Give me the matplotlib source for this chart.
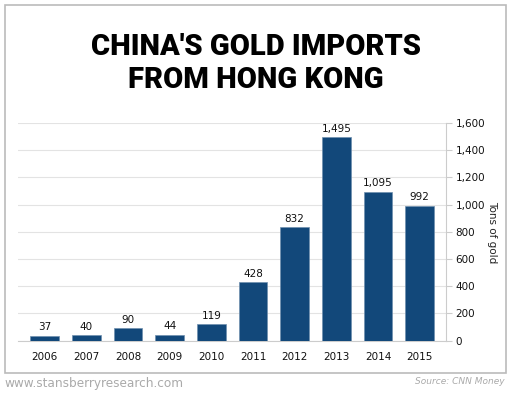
import matplotlib.pyplot as plt
from matplotlib.patches import Rectangle
from matplotlib.ticker import FuncFormatter

years = ['2006', '2007', '2008', '2009', '2010', '2011', '2012', '2013', '2014', '2015']
tons = [37, 40, 90, 44, 119, 428, 832, 1495, 1095, 992]
y_ticks = [0, 200, 400, 600, 800, 1000, 1200, 1400, 1600]

bar_color = '#12487a'

fig = plt.figure(figsize=(5.11, 3.97), dpi=100)
ax = fig.add_axes([0.035, 0.142, 0.837, 0.548])

x = range(len(years))
ax.bar(x, tons, width=0.69, color=bar_color, edgecolor='#6f8fae', linewidth=0.5, zorder=3)
for xi, v in zip(x, tons):
    ax.text(xi, v + 25, f'{v:,}', ha='center', va='bottom', fontsize=7.5, color='#111111')

ax.set_xlim(-0.64, 9.62)
ax.set_ylim(0, 1600)
ax.set_xticks(list(x))
ax.set_xticklabels(years)
ax.set_yticks(y_ticks)
ax.yaxis.set_major_formatter(FuncFormatter(lambda v, p: f'{int(v):,}'))
ax.yaxis.tick_right()
ax.yaxis.set_label_position('right')
ax.set_ylabel('Tons of gold', rotation=270, labelpad=9, fontsize=7.5, color='#222222')

ax.grid(axis='y', color='#e3e3e3', linewidth=0.8, zorder=0)
for s in ['top', 'left']:
    ax.spines[s].set_visible(False)
ax.spines['right'].set_color('#cccccc')
ax.spines['bottom'].set_color('#cccccc')
ax.tick_params(axis='x', length=0, pad=8, labelsize=7.5, colors='#111111')
ax.tick_params(axis='y', length=4, color='#cccccc', pad=3, labelsize=7.5, colors='#111111')

# frame around the chart
fig.patches.append(Rectangle((0.0098, 0.061), 0.980, 0.926, transform=fig.transFigure,
                             fill=False, edgecolor='#bbbbbb', linewidth=1.2))

fig.text(0.5, 0.84, "CHINA'S GOLD IMPORTS\nFROM HONG KONG", ha='center', va='center',
         fontsize=21, fontweight=900, family=['Roboto', 'DejaVu Sans'],
         linespacing=1.2, color='black')
fig.text(0.008, 0.035, 'www.stansberryresearch.com', ha='left', va='center',
         fontsize=8.7, color='#aaaaaa')
fig.text(0.988, 0.038, 'Source: CNN Money', ha='right', va='center',
         fontsize=6.5, style='italic', color='#aaaaaa')

fig.savefig('out.png', dpi=100)
